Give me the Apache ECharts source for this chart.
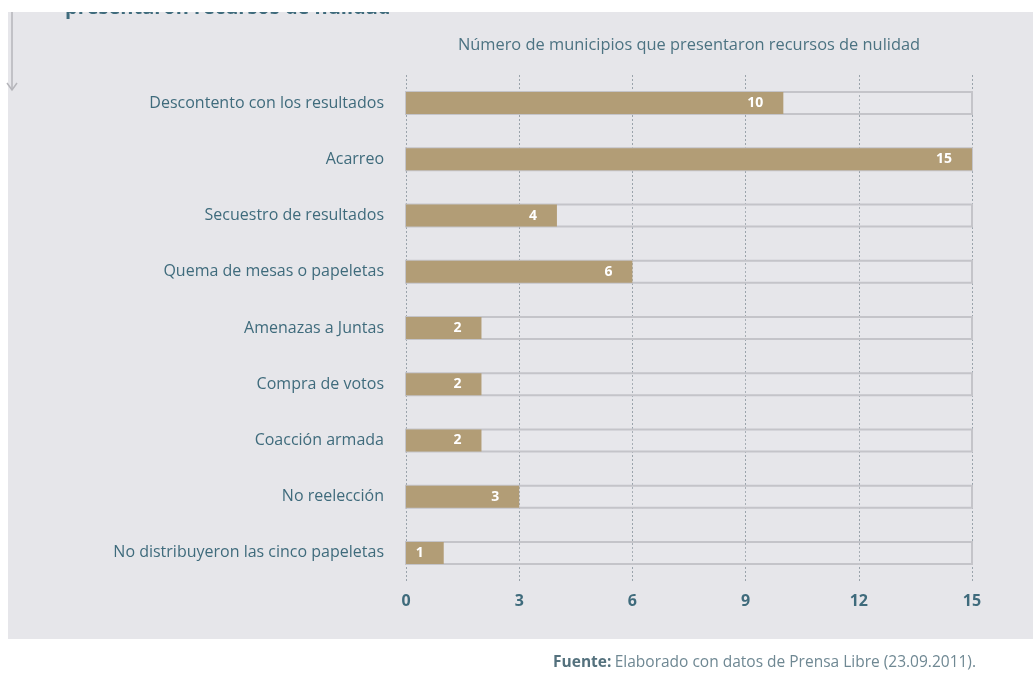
<!DOCTYPE html>
<html><head><meta charset="utf-8">
<script src="https://cdn.jsdelivr.net/npm/echarts@6/dist/echarts.min.js"></script>
<style>html,body{margin:0;padding:0;background:#fff}#c{width:1033px;height:690px}</style>
</head><body><div id="c"></div>
<script>
const categories = ["Descontento con los resultados","Acarreo","Secuestro de resultados","Quema de mesas o papeletas","Amenazas a Juntas","Compra de votos","Coacción armada","No reelección","No distribuyeron las cinco papeletas"];
const values = [10,15,4,6,2,2,2,3,1];
const xTicks = [0,3,6,9,12,15];
const axisTitle = "Número de municipios que presentaron recursos de nulidad";
const teal = '#3f6b7c';
const font = '"Open Sans", Lato, sans-serif';
const chart = echarts.init(document.getElementById('c'));
chart.setOption({
  backgroundColor: '#ffffff',
  animation: false,
  graphic: [
    {type:'rect', z:-10, shape:{x:8,y:0,width:1025,height:639}, style:{fill:'#e6e6ea'}},
    {type:'text', z:-5, left:65, top:-2, style:{text:'presentaron recursos de nulidad', font:'bold 20px '+font, fill:teal}},
    {type:'rect', z:-4, shape:{x:0,y:0,width:1033,height:12}, style:{fill:'#ffffff'}},
    {type:'line', z:-3, shape:{x1:12,y1:12,x2:12,y2:90}, style:{stroke:'#b5b5ba',lineWidth:1.5}},
    {type:'polyline', z:-3, shape:{points:[[7,83],[12,90],[17,83]]}, style:{stroke:'#b5b5ba',lineWidth:1.5,fill:null}},
    {type:'text', right:57, top:655, style:{rich:{b:{font:'bold 15.5px '+font, fill:'#54717d'}, n:{font:'15.5px '+font, fill:'#6f8893'}}, text:'{b|Fuente:} {n|Elaborado con datos de Prensa Libre (23.09.2011).}'}}
  ],
  grid: {left:406, right:61, top:75, bottom:109},
  xAxis: [{
    type:'value', position:'top', min:0, max:15, interval:3,
    name: axisTitle, nameLocation:'middle', nameGap:22,
    nameTextStyle:{color:'#4c7382', fontSize:16.4, fontFamily:font},
    axisLine:{show:false}, axisTick:{show:false},
    axisLabel:{show:false},
    splitLine:{show:true, lineStyle:{type:[2,2], color:'#9aa3ab', width:1}}
  }, {
    type:'value', position:'bottom', min:0, max:15, interval:3, offset:4,
    axisLine:{show:false}, axisTick:{show:false}, splitLine:{show:false},
    axisLabel:{color:teal, fontSize:16, fontWeight:'bold', fontFamily:font,
      formatter: v => xTicks.includes(v) ? String(v) : ''}
  }],
  yAxis: {
    type:'category', data:categories, inverse:true,
    axisLine:{show:false}, axisTick:{show:false},
    axisLabel:{color:teal, fontSize:16, fontFamily:font, margin:22}
  },
  series: [
    {
      type:'bar', data:values, barWidth:22,
      itemStyle:{color:'#b29d76'},
      showBackground:true,
      backgroundStyle:{color:'rgba(240,240,244,0.15)', borderColor:'#c4c4c9', borderWidth:2},
      label:{show:true, position:'insideRight', distance:20, color:'#ffffff', fontWeight:'bold', fontSize:14, fontFamily:font}
    }
  ]
});
</script></body></html>
